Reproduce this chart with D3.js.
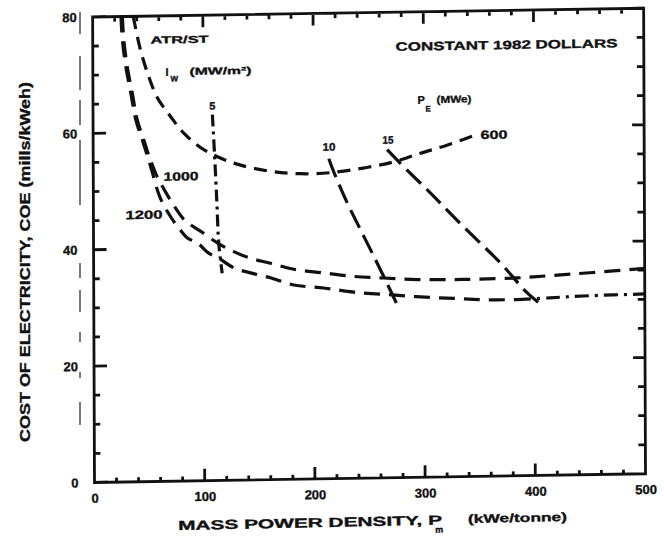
<!DOCTYPE html>
<html>
<head>
<meta charset="utf-8">
<script src="https://cdn.jsdelivr.net/npm/d3@7"></script>
<style>
  body { margin: 0; background: #fff; }
  svg { display: block; }
  text { font-family: "Liberation Sans", Arial, sans-serif; font-weight: bold; fill: #111; stroke: #111; stroke-width: 0.35px; }
</style>
</head>
<body>
<svg id="chart" width="664" height="540"></svg>
<script>
// axis ticks
const massTicks = [0, 100, 200, 300, 400, 500];
const coeTicks = [0, 20, 40, 60, 80];

// P_E curves (MWe): [mass power density kWe/tonne, COE mills/kWeh]
const pe600 = [[36.8,80],[43.3,74.2],[50.7,69.6],[58.3,66.0],[70.3,62.7],[82.3,59.8],[100.4,56.9],
  [127.6,54.5],[160.7,53.0],[188,52.5],[215,52.6],[245,53.3],[273,54.3],[297,55.7],[321,57.0],[349,58.8]];
const pe1000 = [[27,80],[28.2,76],[31.2,71.4],[35.7,66.8],[40.1,62.2],[46,58.7],[50.8,55.9],[57.2,52.7],
  [68.4,48.8],[77.5,46.1],[83.4,44.7],[97.1,42.9],[115.2,40.5],[127.2,39.3],[142.4,38.1],[160.5,37.2],
  [181.6,36.1],[208.7,35.4],[236,34.7],[263,34.35],[293.6,34.0],[323.8,33.9],[348,33.9],[384,34.0],
  [414,34.3],[450,34.7],[500,35.3]];
const pe1200 = [[25.7,80],[26.9,76],[29.9,71.4],[34.4,66.8],[38.8,62.2],[44.7,58.7],[49.3,55.9],[53.5,53.2],
  [60.3,48.9],[69.9,45.5],[77.4,43.5],[84.9,41.8],[94.1,40.9],[104.5,39.1],[113.6,38.2],[127.2,36.5],
  [142.3,35.6],[160.4,34.7],[181.6,33.4],[208.7,32.8],[236,32.0],[266.4,31.5],[296.6,31.0],[326.8,30.66],
  [354,30.35],[384,30.27],[414,30.5],[450.5,30.75],[500,30.9]];

// I_w lines (MW/m2)
const iw5 = [[108.3,62.9],[110.2,55.7],[112.1,47.6],[113.6,40.8],[116.6,35.6]];
const iw10 = [[213.8,55.0],[218.3,52.7],[230.5,47.3],[242.3,42.7],[254.3,38.1],[263.2,34.6],[275.9,29.5]];
const iw15 = [[266.8,56.4],[277.2,54.3],[306,48.8],[336,42.9],[369.2,36.6],[393.4,31.4],[408.3,29.0]];

// labels placed in data space: [x, y, text, size, width, anchor]
const notes = [
  [52.5, 75.9, "ATR/ST", 10, 58, "start"],
  [108.2, 64.4, "5", 11, 0, "middle"],
  [63.7, 52.4, "1000", 12, 35, "start"],
  [29.1, 45.9, "1200", 12, 37, "start"],
  [214, 57.05, "10", 11, 13, "middle"],
  [267.6, 58.1, "15", 11, 11, "middle"],
  [351.5, 58.7, "600", 12, 27, "start"],
  [274.7, 74.1, "CONSTANT 1982 DOLLARS", 12, 222, "start"]
];

const svg = d3.select("#chart");
const x = d3.scaleLinear().domain([0, 500]).range([94.5, 645.5]);
const y = d3.scaleLinear().domain([0, 80]).range([482.5, 17]);

// the scan is slightly skewed
const g = svg.append("g")
  .attr("transform", "translate(93,483) matrix(1,-0.0158,0.004,1,0,0) translate(-93,-483)");

// frame and inward tick marks as one path
const stepsX = d3.range(0, 501, 20);
const stepsY = d3.range(0, 81, 5);
let frame = `M${x(0)},${y(0)}H${x(500)}V${y(80)}H${x(0)}Z`;
stepsX.forEach(d => {
  const major = d % 100 === 0;
  frame += `M${x(d)},${y(0)}V${y(0) - (major ? 12 : 4.5)}`;
  frame += `M${x(d)},${y(80)}V${y(80) + (major ? 12 : 5)}`;
});
stepsY.forEach(d => {
  const major = d % 20 === 0;
  frame += `M${x(0)},${y(d)}H${x(0) + (major ? 13 : 6)}`;
  frame += `M${x(500)},${y(d)}H${x(500) - (major ? 12 : 7)}`;
});
g.append("path")
  .attr("d", frame)
  .attr("fill", "none")
  .attr("stroke", "#111")
  .attr("stroke-width", 2.8);

function styleAxis(sel) {
  sel.select(".domain").remove();
  sel.selectAll(".tick line").remove();
  sel.selectAll(".tick text").attr("font-size", 13)
    .style("font-family", "\"Liberation Sans\", Arial, sans-serif").style("font-weight", "bold");
}

// tick labels from d3 axes
g.append("g").attr("transform", `translate(0,${y(0)})`)
  .call(d3.axisBottom(x).tickValues(massTicks).tickSize(0).tickPadding(11).tickFormat(d3.format("d")))
  .call(styleAxis);
g.append("g").attr("transform", `translate(${x(0)},0)`)
  .call(d3.axisLeft(y).tickValues(coeTicks).tickSize(0).tickPadding(16).tickFormat(d3.format("d")))
  .call(styleAxis);

const line = d3.line().x(d => x(d[0])).y(d => y(d[1])).curve(d3.curveCatmullRom.alpha(0.5));

function curve(data, dash) {
  g.append("path").datum(data)
    .attr("d", line)
    .attr("fill", "none")
    .attr("stroke", "#111")
    .attr("stroke-width", 3.2)
    .attr("stroke-dasharray", dash);
}

curve(pe600, "13,8");
curve(pe1000, "16,9");
curve(pe1200.filter(d => d[0] <= 384), "16,9");
curve(pe1200.filter(d => d[0] >= 384), "14,6,3,6");
curve(iw5, "12,5,3,5");
curve(iw10, "20,8");
curve(iw15, "20,8");

// text labels in the plot
notes.forEach(([nx, ny, t, size, w, anchor]) => {
  const el = g.append("text")
    .attr("x", x(nx)).attr("y", y(ny))
    .attr("dy", "0.36em")
    .attr("font-size", size)
    .attr("text-anchor", anchor)
    .text(t);
  if (w) el.attr("textLength", w).attr("lengthAdjust", "spacingAndGlyphs");
});

// I_w (MW/m2)
g.append("text").attr("x", x(65.9)).attr("y", y(70.4)).attr("dy", "0.36em").attr("font-size", 11).text("I");
g.append("text").attr("x", x(65.9) + 5).attr("y", y(70.4) + 7).attr("dy", "0.36em").attr("font-size", 8).text("W");
g.append("text").attr("x", x(65.9) + 24).attr("y", y(70.4)).attr("dy", "0.36em").attr("font-size", 10)
  .attr("textLength", 62).attr("lengthAdjust", "spacingAndGlyphs").text("(MW/m²)");

// P_E (MWe)
g.append("text").attr("x", x(294.5)).attr("y", y(64.9)).attr("dy", "0.36em").attr("font-size", 11).text("P");
g.append("text").attr("x", x(294.5) + 8).attr("y", y(64.9) + 9).attr("dy", "0.36em").attr("font-size", 8).text("E");
g.append("text").attr("x", x(294.5) + 19).attr("y", y(64.9)).attr("dy", "0.36em").attr("font-size", 10)
  .attr("textLength", 35).attr("lengthAdjust", "spacingAndGlyphs").text("(MWe)");

// axis titles
svg.append("text")
  .attr("transform", "translate(25,262) rotate(-90)")
  .attr("text-anchor", "middle")
  .attr("dy", "0.36em")
  .attr("font-size", 14)
  .attr("textLength", 360).attr("lengthAdjust", "spacingAndGlyphs")
  .text("COST OF ELECTRICITY, COE (mills/kWeh)");

const xt = svg.append("g").attr("transform", "rotate(-1.2,373,521)");
xt.append("text").attr("x", 178).attr("y", 526).attr("font-size", 13)
  .attr("textLength", 264).attr("lengthAdjust", "spacingAndGlyphs")
  .text("MASS POWER DENSITY, P");
xt.append("text").attr("x", 435).attr("y", 534).attr("font-size", 9).text("m");
xt.append("text").attr("x", 468).attr("y", 525).attr("font-size", 12)
  .attr("textLength", 99).attr("lengthAdjust", "spacingAndGlyphs")
  .text("(kWe/tonne)");

// faint scan streak left of the y axis
svg.append("line")
  .attr("x1", 80).attr("x2", 80).attr("y1", 12).attr("y2", 425)
  .attr("stroke", "#333").attr("stroke-width", 1.3)
  .attr("stroke-dasharray", "22,22,34,10,25,15,65,58,15,12,22,20,10,30,6,24,30,20");
</script>
</body>
</html>
